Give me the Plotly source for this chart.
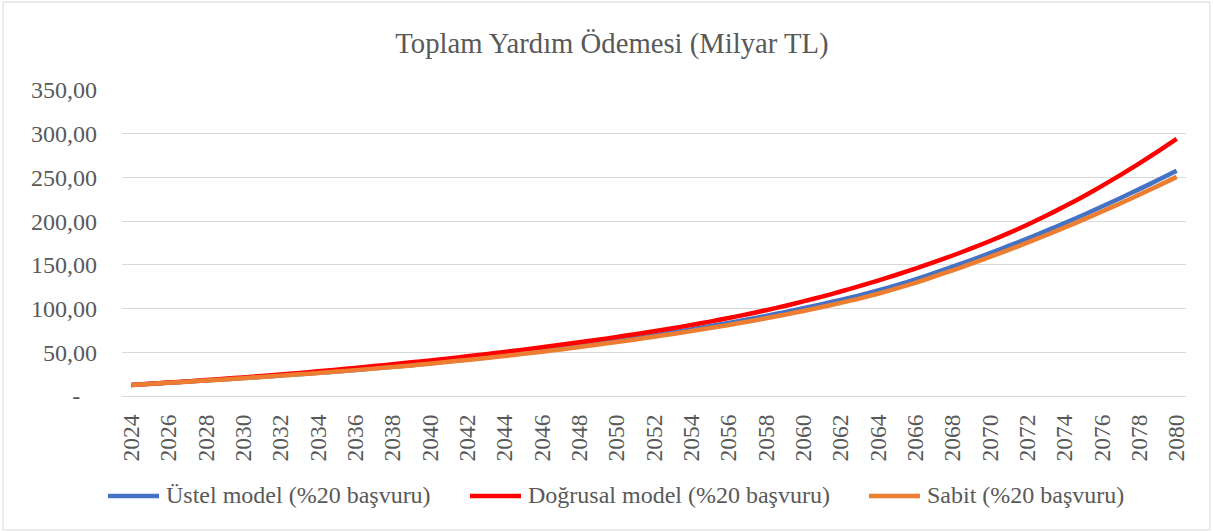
import plotly.graph_objects as go

years = list(range(2024, 2081))

ustel = [12.6, 13.9, 15.2, 16.5, 17.8, 19.1, 20.5, 21.9, 23.4, 25.0,
         26.5, 28.1, 29.8, 31.6, 33.4, 35.3, 37.4, 39.6, 41.8, 44.0,
         46.4, 48.9, 51.5, 54.2, 57.0, 59.9, 62.9, 66.0, 69.3, 72.7,
         76.2, 79.8, 83.6, 87.5, 91.6, 95.9, 100.4, 105.1, 110.0, 115.0,
         120.7, 126.8, 133.4, 140.5, 147.9, 155.5, 163.4, 171.6, 180.1, 188.8,
         197.8, 207.1, 216.7, 226.5, 236.6, 247.0, 257.7]

dogrusal = [12.5, 13.9, 15.3, 16.7, 18.2, 19.7, 21.3, 22.9, 24.6, 26.4,
            28.2, 30.1, 32.1, 34.2, 36.4, 38.5, 40.7, 43.0, 45.4, 47.9,
            50.4, 53.0, 55.7, 58.5, 61.4, 64.4, 67.5, 70.7, 74.0, 77.5,
            81.2, 85.1, 89.2, 93.5, 98.1, 103.0, 108.2, 113.7, 119.5, 125.6,
            132.0, 138.7, 145.7, 153.0, 160.7, 168.8, 177.3, 186.3, 195.9, 206.1,
            216.9, 228.3, 240.3, 252.9, 266.1, 279.9, 294.1]

sabit = [12.5, 13.8, 15.1, 16.4, 17.7, 19.0, 20.4, 21.8, 23.3, 24.8,
         26.3, 27.9, 29.6, 31.3, 33.1, 35.0, 37.0, 39.1, 41.3, 43.5,
         45.8, 48.2, 50.7, 53.3, 56.0, 58.8, 61.7, 64.7, 67.8, 71.0,
         74.3, 77.7, 81.3, 85.0, 88.9, 93.0, 97.3, 101.8, 106.5, 111.4,
         117.0, 123.0, 129.5, 136.5, 143.8, 151.3, 159.1, 167.1, 175.4, 183.9,
         192.7, 201.7, 211.0, 220.5, 230.3, 240.3, 250.6]

series_names = ["Üstel model (%20 başvuru)", "Doğrusal model (%20 başvuru)", "Sabit (%20 başvuru)"]
series_colors = ["#4472C4", "#FF0000", "#ED7D31"]

x_ticks = list(range(2024, 2081, 2))
y_ticks = [0, 50, 100, 150, 200, 250, 300, 350]
y_ticktext = ["-\u00a0\u00a0\u2009", "50,00", "100,00", "150,00", "200,00", "250,00", "300,00", "350,00"]

FONT = "Liberation Serif, Times New Roman, serif"
TXT = "#595959"
GRID = "#D9D9D9"

W, H = 1213, 532
L, R, T, B = 122, 27, 90, 136
pw = W - L - R
ph = H - T - B


def px(xp):
    return (xp - L) / pw


def py(yp):
    return (H - B - yp) / ph


fig = go.Figure()
for name, vals, col in zip(series_names, [ustel, dogrusal, sabit], series_colors):
    fig.add_trace(go.Scatter(x=years, y=vals, mode="lines", name=name,
                             line=dict(color=col, width=4.5, shape="spline", smoothing=0.6),
                             showlegend=False, hoverinfo="x+y"))

# legend drawn manually (sample line + label) to match the reference spacing
legend_items = [(106, 161, 165), (468, 523, 527), (867, 922, 926)]
legend_y = 496
shapes = [dict(type="rect", xref="paper", yref="paper",
               x0=px(3), x1=px(1210), y0=py(530), y1=py(2),
               line=dict(color=GRID, width=1), fillcolor="rgba(0,0,0,0)", layer="below")]
annotations = []
for (sx0, sx1, tx), name, col in zip(legend_items, series_names, series_colors):
    shapes.append(dict(type="line", xref="paper", yref="paper",
                       x0=px(sx0 + 2), x1=px(sx1 - 2), y0=py(legend_y), y1=py(legend_y),
                       line=dict(color=col, width=4.5)))
    annotations.append(dict(text=name, xref="paper", yref="paper", x=px(tx), y=py(legend_y - 1),
                            xanchor="left", yanchor="middle", showarrow=False, borderpad=0,
                            font=dict(family=FONT, size=24, color=TXT)))

fig.update_layout(
    width=W, height=H,
    margin=dict(l=L, r=R, t=T, b=B, autoexpand=False),
    paper_bgcolor="white", plot_bgcolor="white",
    font=dict(family=FONT, color=TXT, size=24),
    title=dict(text="Toplam Yardım Ödemesi (Milyar TL)", x=612 / W, xref="container",
               xanchor="center", y=1 - 43 / H, yref="container", yanchor="middle",
               font=dict(family=FONT, size=28.7, color=TXT)),
    showlegend=False,
    xaxis=dict(range=[2023.5, 2080.5], tickmode="array", tickvals=x_ticks,
               ticktext=[str(v) for v in x_ticks], tickangle=-90, automargin=False,
               showgrid=False, zeroline=False, showline=True, linecolor=GRID, linewidth=1,
               ticks="", ticklabelstandoff=8, tickfont=dict(family=FONT, size=23.5, color=TXT)),
    yaxis=dict(range=[0, 350], tickmode="array", tickvals=y_ticks, ticktext=y_ticktext,
               showgrid=True, gridcolor=GRID, gridwidth=1, zeroline=False, showline=False,
               automargin=False, ticks="", ticklabelstandoff=24,
               tickfont=dict(family=FONT, size=24, color=TXT)),
    shapes=shapes,
    annotations=annotations,
)

fig.write_html("out.html", config={"displayModeBar": False},
               post_script="document.body.style.margin='0px';document.body.style.overflow='hidden';")
